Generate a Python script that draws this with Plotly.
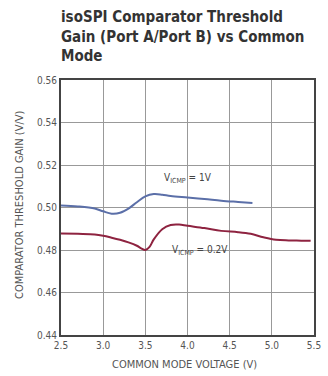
import plotly.graph_objects as go

title_lines = ["isoSPI Comparator Threshold", "Gain (Port A/Port B) vs Common", "Mode"]
x_title = "COMMON MODE VOLTAGE (V)"
y_title = "COMPARATOR THRESHOLD GAIN (V/V)"

x_ticks = [2.5, 3.0, 3.5, 4.0, 4.5, 5.0, 5.5]
y_ticks = [0.44, 0.46, 0.48, 0.50, 0.52, 0.54, 0.56]

# VICMP = 1V
x_1v = [2.5, 2.7, 2.9, 3.0, 3.1, 3.2, 3.3, 3.4, 3.5, 3.6, 3.7, 3.8, 4.0, 4.2, 4.4, 4.6, 4.77]
y_1v = [0.5010, 0.5005, 0.4995, 0.4982, 0.4971, 0.4975, 0.4995, 0.5025, 0.5052, 0.5063, 0.5060, 0.5054, 0.5047, 0.5040, 0.5032, 0.5026, 0.5021]

# VICMP = 0.2V
x_02v = [2.5, 2.7, 2.9, 3.0, 3.1, 3.2, 3.3, 3.4, 3.45, 3.5, 3.55, 3.6, 3.7, 3.8, 3.9, 4.0, 4.2, 4.4, 4.6, 4.75, 4.9, 5.05, 5.2, 5.35, 5.46]
y_02v = [0.4878, 0.4876, 0.4873, 0.4867, 0.4858, 0.4848, 0.4836, 0.4820, 0.4808, 0.4800, 0.4815, 0.4850, 0.4898, 0.4918, 0.4920, 0.4914, 0.4903, 0.4890, 0.4884, 0.4876, 0.4860, 0.4848, 0.4845, 0.4844, 0.4843]

label_1v = "V<sub>ICMP</sub> = 1V"
label_02v = "V<sub>ICMP</sub> = 0.2V"

narrow = "DejaVu Sans Condensed, Liberation Sans Narrow, sans-serif"

fig = go.Figure()
fig.add_trace(go.Scatter(x=x_1v, y=y_1v, mode="lines", line=dict(color="#5b6fa8", width=2, shape="spline"), showlegend=False))
fig.add_trace(go.Scatter(x=x_02v, y=y_02v, mode="lines", line=dict(color="#8e2340", width=2, shape="spline"), showlegend=False))

fig.add_annotation(x=4.0, y=0.5135, text=label_1v, showarrow=False, font=dict(family=narrow, size=10, color="#444"))
fig.add_annotation(x=4.15, y=0.4796, text=label_02v, showarrow=False, font=dict(family=narrow, size=10, color="#444"))

fig.add_annotation(x=0, y=1.29, xref="paper", yref="paper", xanchor="left", yanchor="top", align="left",
                   showarrow=False, xshift=-2,
                   text="<b>" + "<br>".join(title_lines) + "</b>",
                   font=dict(family=narrow, size=15, color="#333"))

fig.add_annotation(x=0.49, y=-0.114, xref="paper", yref="paper", xanchor="center", yanchor="middle",
                   showarrow=False, text=x_title, font=dict(family=narrow, size=11, color="#555"))
fig.add_annotation(x=-0.162, y=0.51, xref="paper", yref="paper", xanchor="center", yanchor="middle",
                   showarrow=False, textangle=-90, text=y_title, font=dict(family=narrow, size=11, color="#555"))

fig.update_layout(
    width=328, height=376,
    margin=dict(l=61, r=14, t=80, b=41, autoexpand=False),
    paper_bgcolor="white", plot_bgcolor="white",
    font=dict(family=narrow, color="#555"),
)
fig.update_xaxes(range=[2.5, 5.5], tickvals=x_ticks, ticktext=[f"{v:.1f}" for v in x_ticks],
                 showgrid=True, gridcolor="#999", gridwidth=1, showline=True, linecolor="#444", linewidth=2,
                 mirror=True, ticks="", tickfont=dict(size=10, color="#555"), automargin=False, zeroline=False)
fig.update_yaxes(range=[0.44, 0.56], tickvals=y_ticks, ticktext=[f"{v:.2f}" for v in y_ticks],
                 showgrid=True, gridcolor="#999", gridwidth=1, showline=True, linecolor="#444", linewidth=2,
                 mirror=True, ticks="", tickfont=dict(size=10, color="#555"), automargin=False, zeroline=False)

fig.write_html("out.html")
